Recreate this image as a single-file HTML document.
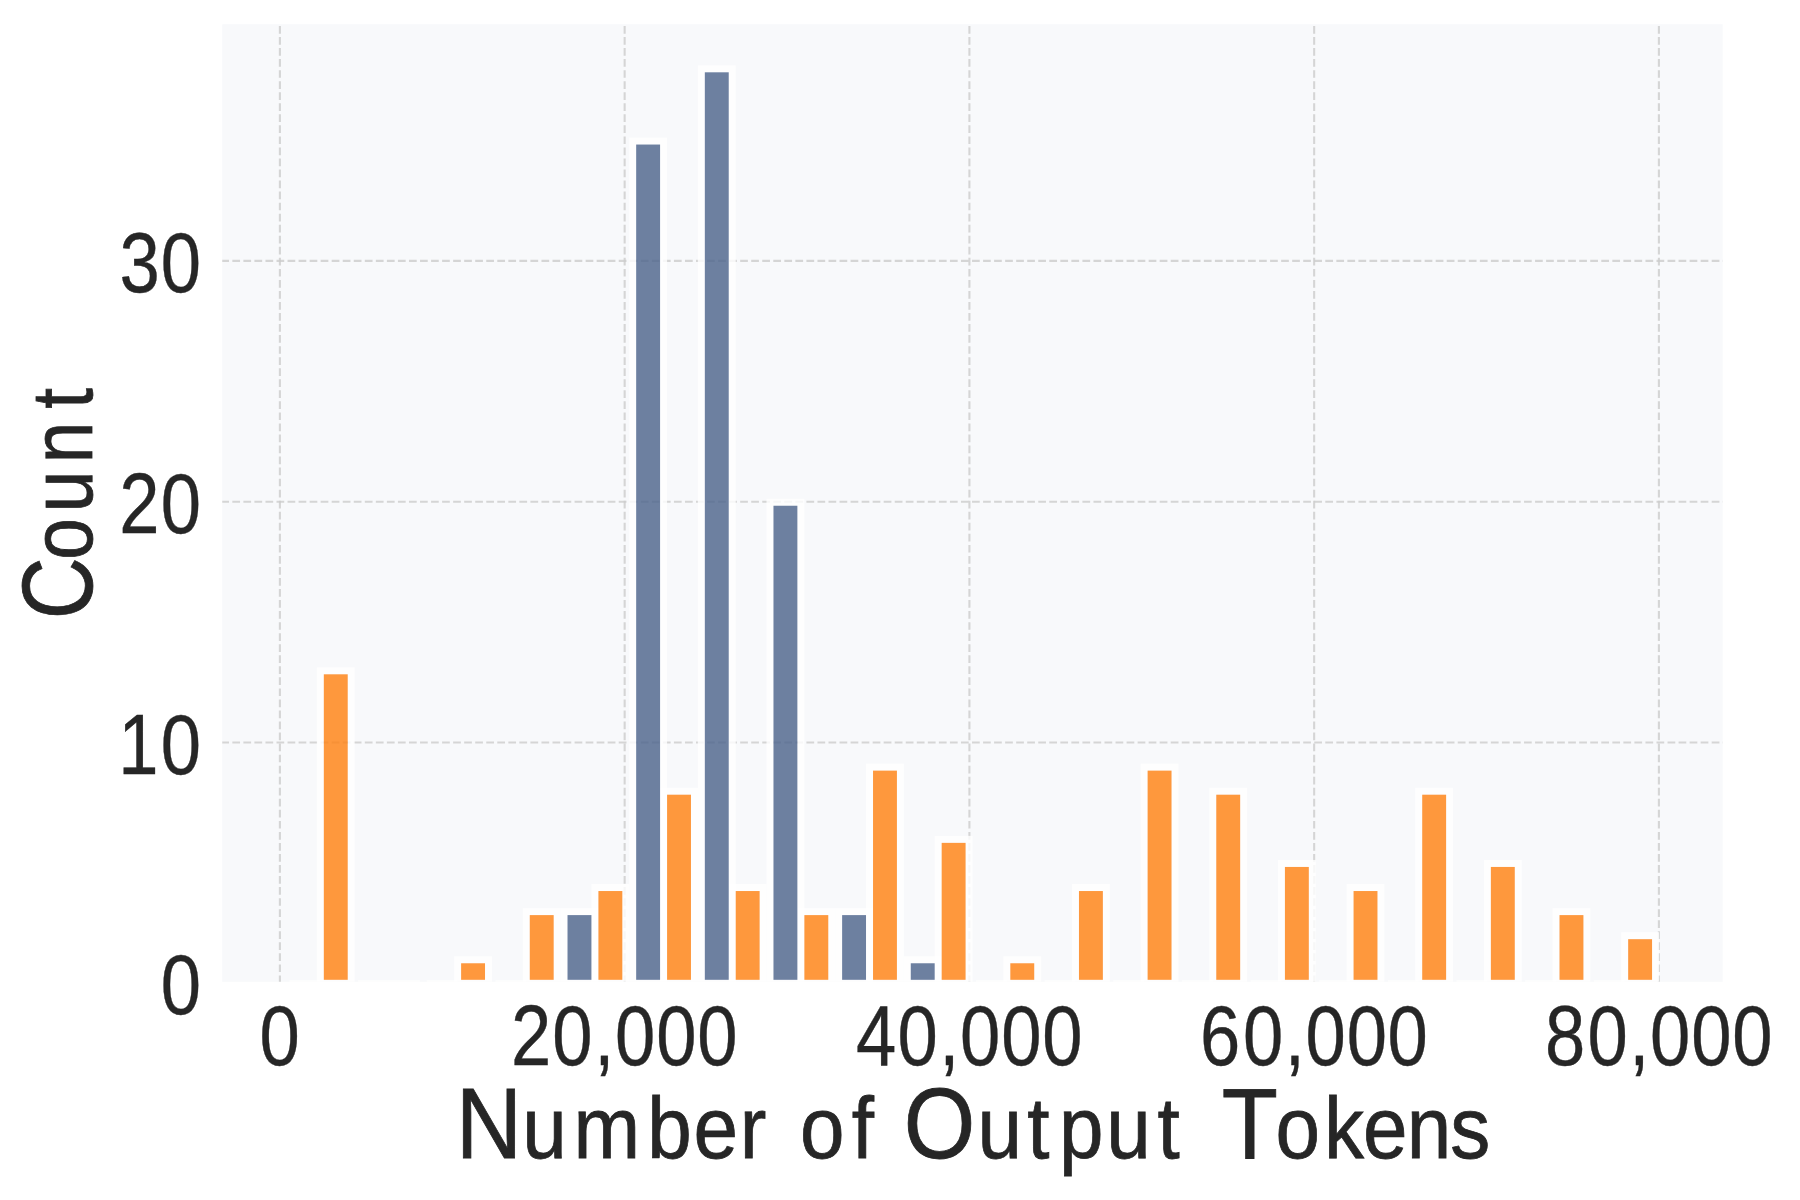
<!DOCTYPE html>
<html lang="en"><head><meta charset="utf-8"><title>Number of Output Tokens</title>
<style>html,body{margin:0;padding:0;background:#fff;overflow:hidden}svg{display:block}text{font-family:"Liberation Sans",sans-serif;fill:#262626}</style></head><body>
<svg width="1800" height="1200" viewBox="0 0 1800 1200">
<rect x="0" y="0" width="1800" height="1200" fill="#ffffff"/>
<defs><clipPath id="ax"><rect x="222.25" y="24.25" width="1500.45" height="957.60"/></clipPath></defs>
<rect x="222.25" y="24.25" width="1500.45" height="957.60" fill="#f8f9fb"/>
<g clip-path="url(#ax)">
<g stroke="#cccccc" stroke-opacity="0.80" stroke-width="2.08" stroke-dasharray="7.71 3.33" fill="none">
<line x1="279.90" y1="26" x2="279.90" y2="986.85"/>
<line x1="624.65" y1="26" x2="624.65" y2="986.85"/>
<line x1="969.40" y1="26" x2="969.40" y2="986.85"/>
<line x1="1314.15" y1="26" x2="1314.15" y2="986.85"/>
<line x1="1658.90" y1="26" x2="1658.90" y2="986.85"/>
<line x1="221.3" y1="742.50" x2="1727.70" y2="742.50"/>
<line x1="221.3" y1="501.70" x2="1727.70" y2="501.70"/>
<line x1="221.3" y1="260.90" x2="1727.70" y2="260.90"/>
</g>
<g fill="none" stroke="#ffffff" stroke-width="7.00" stroke-opacity="0.80">
<line x1="289.43" y1="983.75" x2="320.32" y2="983.75"/>
<rect x="320.32" y="670.81" width="30.89" height="313.04"/>
<line x1="358.08" y1="983.75" x2="388.97" y2="983.75"/>
<line x1="388.97" y1="983.75" x2="419.87" y2="983.75"/>
<line x1="426.73" y1="983.75" x2="457.62" y2="983.75"/>
<rect x="457.62" y="959.77" width="30.89" height="24.08"/>
<line x1="495.38" y1="983.75" x2="526.28" y2="983.75"/>
<rect x="526.28" y="911.61" width="30.89" height="72.24"/>
<rect x="564.03" y="911.61" width="30.89" height="72.24"/>
<rect x="594.93" y="887.53" width="30.89" height="96.32"/>
<rect x="632.68" y="141.05" width="30.89" height="842.80"/>
<rect x="663.58" y="791.21" width="30.89" height="192.64"/>
<rect x="701.33" y="68.81" width="30.89" height="915.04"/>
<rect x="732.23" y="887.53" width="30.89" height="96.32"/>
<rect x="769.98" y="502.25" width="30.89" height="481.60"/>
<rect x="800.88" y="911.61" width="30.89" height="72.24"/>
<rect x="838.63" y="911.61" width="30.89" height="72.24"/>
<rect x="869.53" y="767.13" width="30.89" height="216.72"/>
<rect x="907.28" y="959.77" width="30.89" height="24.08"/>
<rect x="938.18" y="839.37" width="30.89" height="144.48"/>
<line x1="975.93" y1="983.75" x2="1006.83" y2="983.75"/>
<rect x="1006.83" y="959.77" width="30.89" height="24.08"/>
<line x1="1044.58" y1="983.75" x2="1075.47" y2="983.75"/>
<rect x="1075.47" y="887.53" width="30.89" height="96.32"/>
<line x1="1113.23" y1="983.75" x2="1144.12" y2="983.75"/>
<rect x="1144.12" y="767.13" width="30.89" height="216.72"/>
<line x1="1181.88" y1="983.75" x2="1212.77" y2="983.75"/>
<rect x="1212.77" y="791.21" width="30.89" height="192.64"/>
<line x1="1250.53" y1="983.75" x2="1281.42" y2="983.75"/>
<rect x="1281.42" y="863.45" width="30.89" height="120.40"/>
<line x1="1319.18" y1="983.75" x2="1350.07" y2="983.75"/>
<rect x="1350.07" y="887.53" width="30.89" height="96.32"/>
<line x1="1387.83" y1="983.75" x2="1418.72" y2="983.75"/>
<rect x="1418.72" y="791.21" width="30.89" height="192.64"/>
<line x1="1456.48" y1="983.75" x2="1487.38" y2="983.75"/>
<rect x="1487.38" y="863.45" width="30.89" height="120.40"/>
<line x1="1525.13" y1="983.75" x2="1556.02" y2="983.75"/>
<rect x="1556.02" y="911.61" width="30.89" height="72.24"/>
<line x1="1593.78" y1="983.75" x2="1624.67" y2="983.75"/>
<rect x="1624.67" y="935.69" width="30.89" height="48.16"/>
</g>
<g fill-opacity="0.80">
<rect x="323.82" y="674.31" width="23.89" height="305.49" fill="#ff7f0e"/>
<rect x="461.12" y="963.27" width="23.89" height="16.53" fill="#ff7f0e"/>
<rect x="529.78" y="915.11" width="23.89" height="64.69" fill="#ff7f0e"/>
<rect x="567.53" y="915.11" width="23.89" height="64.69" fill="#4a6189"/>
<rect x="598.43" y="891.03" width="23.89" height="88.77" fill="#ff7f0e"/>
<rect x="636.18" y="144.55" width="23.89" height="835.25" fill="#4a6189"/>
<rect x="667.08" y="794.71" width="23.89" height="185.09" fill="#ff7f0e"/>
<rect x="704.83" y="72.31" width="23.89" height="907.49" fill="#4a6189"/>
<rect x="735.73" y="891.03" width="23.89" height="88.77" fill="#ff7f0e"/>
<rect x="773.48" y="505.75" width="23.89" height="474.05" fill="#4a6189"/>
<rect x="804.38" y="915.11" width="23.89" height="64.69" fill="#ff7f0e"/>
<rect x="842.13" y="915.11" width="23.89" height="64.69" fill="#4a6189"/>
<rect x="873.03" y="770.63" width="23.89" height="209.17" fill="#ff7f0e"/>
<rect x="910.78" y="963.27" width="23.89" height="16.53" fill="#4a6189"/>
<rect x="941.68" y="842.87" width="23.89" height="136.93" fill="#ff7f0e"/>
<rect x="1010.33" y="963.27" width="23.89" height="16.53" fill="#ff7f0e"/>
<rect x="1078.97" y="891.03" width="23.89" height="88.77" fill="#ff7f0e"/>
<rect x="1147.62" y="770.63" width="23.89" height="209.17" fill="#ff7f0e"/>
<rect x="1216.27" y="794.71" width="23.89" height="185.09" fill="#ff7f0e"/>
<rect x="1284.92" y="866.95" width="23.89" height="112.85" fill="#ff7f0e"/>
<rect x="1353.57" y="891.03" width="23.89" height="88.77" fill="#ff7f0e"/>
<rect x="1422.22" y="794.71" width="23.89" height="185.09" fill="#ff7f0e"/>
<rect x="1490.88" y="866.95" width="23.89" height="112.85" fill="#ff7f0e"/>
<rect x="1559.52" y="915.11" width="23.89" height="64.69" fill="#ff7f0e"/>
<rect x="1628.17" y="939.19" width="23.89" height="40.61" fill="#ff7f0e"/>
</g>
</g>
<text transform="translate(0,1064.60) scale(0.8570,1)" y="0" stroke="#262626" stroke-width="0.40"><tspan font-size="84.50" x="302.76">0</tspan></text>
<text transform="translate(0,1064.60) scale(0.8570,1)" y="0" stroke="#262626" stroke-width="0.40"><tspan font-size="84.50" x="596.22 644.36 693.51 717.75 765.88 813.73">20,000</tspan></text>
<text transform="translate(0,1064.60) scale(0.8570,1)" y="0" stroke="#262626" stroke-width="0.40"><tspan font-size="84.50" x="998.77 1047.27 1096.08 1120.32 1168.39 1216.29">40,000</tspan></text>
<text transform="translate(0,1064.60) scale(0.8570,1)" y="0" stroke="#262626" stroke-width="0.40"><tspan font-size="84.50" x="1400.37 1450.42 1499.23 1523.47 1571.54 1618.98">60,000</tspan></text>
<text transform="translate(0,1064.60) scale(0.8570,1)" y="0" stroke="#262626" stroke-width="0.40"><tspan font-size="84.50" x="1802.93 1852.41 1901.21 1925.45 1973.53 2021.25">80,000</tspan></text>
<text transform="translate(0,1014.45) scale(0.8570,1)" y="0" stroke="#262626" stroke-width="0.40"><tspan font-size="84.50" x="187.47">0</tspan></text>
<text transform="translate(0,773.65) scale(0.8570,1)" y="0" stroke="#262626" stroke-width="0.40"><tspan font-size="84.50" x="138.12 187.47">10</tspan></text>
<text transform="translate(0,532.85) scale(0.8570,1)" y="0" stroke="#262626" stroke-width="0.40"><tspan font-size="84.50" x="139.28 187.47">20</tspan></text>
<text transform="translate(0,292.05) scale(0.8570,1)" y="0" stroke="#262626" stroke-width="0.40"><tspan font-size="84.50" x="139.53 187.47">30</tspan></text>
<text transform="translate(0,1157.60) scale(0.9200,1)" y="0" stroke="#262626" stroke-width="0.80"><tspan font-size="100.00" x="495.28">N</tspan><tspan font-size="87.00" x="567.56 623.25 703.42 753.94 804.05">umber</tspan><tspan font-size="87.00" x="838.84"> </tspan><tspan font-size="87.00" x="869.56 925.77">of</tspan><tspan font-size="87.00" x="960.55"> </tspan><tspan font-size="100.00" x="982.38">O</tspan><tspan font-size="87.00" x="1062.45 1116.65 1151.19 1202.50 1258.12">utput</tspan><tspan font-size="87.00" x="1292.90"> </tspan><tspan font-size="100.00" x="1327.91">T</tspan><tspan font-size="87.00" x="1386.35 1439.01 1481.60 1529.17 1576.27">okens</tspan></text>
<text transform="translate(92.20,0) rotate(-90) scale(0.8600,1)" y="0" stroke="#262626" stroke-width="0.80"><tspan font-size="100.00" x="-720.08">C</tspan><tspan font-size="87.00" x="-650.94 -595.70 -538.62 -475.16">ount</tspan></text>
</svg></body></html>
